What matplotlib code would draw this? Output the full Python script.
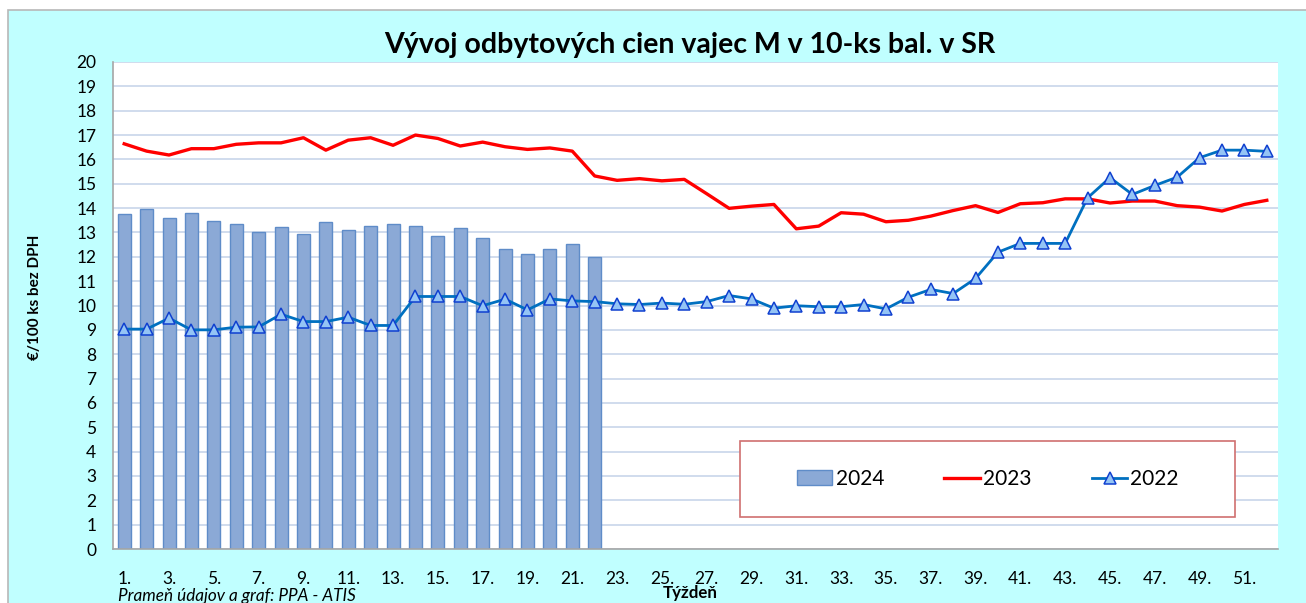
import numpy as np
import matplotlib
matplotlib.use('Agg')
import matplotlib.pyplot as plt
from matplotlib.patches import Rectangle

plt.rcParams['font.family'] = ['Lato', 'DejaVu Sans']
plt.rcParams['axes.grid'] = False

# tyzden 1..52
weeks = np.arange(1, 53)
tick_labels = ['%d.' % w for w in weeks]

y2024 = [13.77, 13.96, 13.60, 13.78, 13.47, 13.34, 13.01, 13.21, 12.95, 13.44, 13.10,
         13.26, 13.33, 13.25, 12.85, 13.19, 12.77, 12.33, 12.12, 12.33, 12.51, 12.00]

y2023 = [16.64, 16.34, 16.18, 16.44, 16.44, 16.62, 16.68, 16.68, 16.89, 16.38, 16.79,
         16.89, 16.58, 17.00, 16.86, 16.55, 16.71, 16.52, 16.41, 16.47, 16.34, 15.32,
         15.14, 15.21, 15.12, 15.18, 14.59, 13.99, 14.08, 14.15, 13.15, 13.26, 13.81,
         13.75, 13.44, 13.50, 13.67, 13.90, 14.10, 13.82, 14.18, 14.22, 14.38, 14.38,
         14.21, 14.29, 14.29, 14.10, 14.04, 13.88, 14.15, 14.32]

y2022 = [9.03, 9.03, 9.48, 9.00, 9.00, 9.11, 9.12, 9.64, 9.34, 9.34, 9.52, 9.18, 9.18,
         10.37, 10.37, 10.37, 9.99, 10.26, 9.82, 10.27, 10.19, 10.16, 10.07, 10.04,
         10.10, 10.05, 10.16, 10.41, 10.27, 9.89, 9.99, 9.95, 9.95, 10.04, 9.86, 10.34,
         10.66, 10.49, 11.11, 12.19, 12.55, 12.55, 12.55, 14.42, 15.25, 14.56, 14.93,
         15.27, 16.07, 16.38, 16.38, 16.33]

W, H = 1306, 603
fig = plt.figure(figsize=(W / 100, H / 100), dpi=100)
fig.patch.set_facecolor('white')
# cyan pozadie s sivym okrajom
fig.patches.append(Rectangle((8 / W, -0.05), 1.2, 1 - 10 / H + 0.05, transform=fig.transFigure,
                             facecolor='#C0FFFF', edgecolor='#B8B8B8', lw=1.2, zorder=-10))

ax = fig.add_axes([113 / W, 1 - 549 / H, (1278 - 113) / W, (549 - 62) / H])
ax.set_facecolor('white')

x = np.arange(len(weeks))
b24 = ax.bar(x[:len(y2024)], y2024, width=0.58, color='#8BA9D6', edgecolor='#5F8CC8',
             linewidth=1.0, label='2024', zorder=2)
l23, = ax.plot(x[:len(y2023)], y2023, color='#FF0000', lw=2.4, label='2023', zorder=3,
               solid_joinstyle='round')
l22, = ax.plot(x[:len(y2022)], y2022, color='#0070C0', lw=2.0, marker='^', markersize=9,
               markerfacecolor='#94C4F5', markeredgecolor='#1040D0', markeredgewidth=1.1,
               label='2022', zorder=4)

ax.set_xlim(-0.5, len(weeks) - 0.5)
ax.set_ylim(0, 20)
ax.set_yticks(np.arange(0, 21, 1))
ax.set_xticks(x[::2])
ax.set_xticklabels(tick_labels[::2])
ax.tick_params(axis='both', length=0, width=0, labelsize=12.5, colors='black')
ax.tick_params(axis='y', pad=12)
ax.tick_params(axis='x', pad=16)
for t in ax.xaxis.get_major_ticks():
    t.gridline.set_visible(False)
ax.yaxis.grid(True, color='#C8D6EA', lw=1.2)
ax.set_axisbelow(True)
for s in ['top', 'right']:
    ax.spines[s].set_visible(False)
for s in ['left', 'bottom']:
    ax.spines[s].set_color('#A6A6A6')
    ax.spines[s].set_linewidth(1.2)

fig.text(690 / W, 1 - 45 / H, 'Vývoj odbytových cien vajec M v 10-ks bal. v SR',
         ha='center', va='center', fontsize=20.5, fontweight='bold')
fig.text(35 / W, 1 - 297 / H, '€/100 ks bez DPH', rotation=90, ha='center', va='center',
         fontsize=11, fontweight='bold')
fig.text(690 / W, 1 - 593 / H, 'Týždeň', ha='center', va='center', fontsize=12.2,
         fontweight='bold')
fig.text(118 / W, 1 - 596 / H, 'Prameň údajov a graf: PPA - ATIS', ha='left', va='center',
         fontsize=12.3, fontstyle='italic')

# ramik legendy
ax.add_patch(Rectangle(((740 - 113) / 1165, (549 - 517) / 487), (1235 - 740) / 1165,
                       (517 - 441) / 487, transform=ax.transAxes, facecolor='white',
                       edgecolor='#D07070', lw=1.2, zorder=5))
leg = ax.legend([b24, l23, l22], ['2024', '2023', '2022'], loc='center',
                bbox_to_anchor=((988 - 113) / 1165, (549 - 479) / 487),
                ncol=3, frameon=False, fontsize=15, handlelength=1.7, handletextpad=0.15,
                columnspacing=2.9)
leg.set_zorder(6)

fig.savefig('out.png', dpi=100)
